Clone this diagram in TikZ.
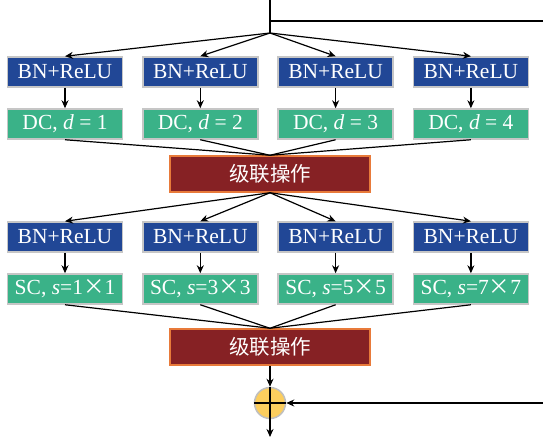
\documentclass[tikz,border=0pt]{standalone}
\usepackage{fontspec}
\setmainfont{Liberation Serif}
\newfontfamily\cjk{Noto Sans CJK SC}
\usetikzlibrary{arrows.meta}

\definecolor{bnblue}{RGB}{33,71,150}
\definecolor{convgreen}{RGB}{58,178,136}
\definecolor{catred}{RGB}{134,33,36}
\definecolor{catedge}{RGB}{232,122,58}
\definecolor{sumyellow}{RGB}{252,206,94}

\newcommand{\bigtimes}{{\cjk ×}}

\begin{document}
\begin{tikzpicture}[
              x=1pt,y=-1pt,
              bn/.style={draw=gray!45,line width=1.5pt,fill=bnblue,text=white,minimum width=115pt,minimum height=30pt,inner sep=0pt,font=\fontsize{21.5}{24}\selectfont},
              conv/.style={bn,fill=convgreen},
              concat/.style={draw=catedge,line width=1.5pt,fill=catred,text=white,minimum width=200pt,minimum height=36pt,inner sep=0pt,font=\cjk\fontsize{20.5}{24}\selectfont},
              sum/.style={circle,draw=gray!50,line width=1.5pt,fill=sumyellow,minimum size=31pt,inner sep=0pt},
              flow/.style={line width=1.2pt,-{Stealth[length=8pt,width=7pt]}},
              link/.style={line width=1.2pt}
            ]
            \useasboundingbox (0,0) rectangle (543,437);

            % Input and skip connection
            \coordinate (in) at (270,0);
            \coordinate (split) at (270,33);
            \coordinate (skipA) at (270,21);
            \coordinate (skipB) at (543,21);
            \coordinate (skipC) at (543,403);
            \coordinate (out) at (270,437);
            \draw[link] (in) -- (split);
            \draw[link] (skipA) -- (skipB);

            % Stage 1: dilated convolutions
            \foreach \i in {1,2,3,4} {
              \node[bn] (bnA\i) at ({65+135.3*(\i-1)},72) {BN+ReLU};
              \node[conv] (dc\i) at ({65+135.3*(\i-1)},124) {DC, \textit{d} = \i};
              \draw[flow] (split) -- (bnA\i.north);
              \draw[flow] (bnA\i) -- (dc\i);
            }
            \node[concat] (catA) at (270,174) {级联操作};
            \foreach \i in {1,2,3,4}
              \draw[link] (dc\i.south) -- (catA.north);

            % Stage 2: separable convolutions
            \foreach \i/\k in {1/1,2/3,3/5,4/7} {
              \node[bn] (bnB\i) at ({65+135.3*(\i-1)},237) {BN+ReLU};
              \node[conv] (sc\i) at ({65+135.3*(\i-1)},289) {SC, \textit{s}=\k\bigtimes\k};
              \draw[flow] (catA.south) -- (bnB\i.north);
              \draw[flow] (bnB\i) -- (sc\i);
            }
            \node[concat] (catB) at (270,347) {级联操作};
            \foreach \i in {1,2,3,4}
              \draw[link] (sc\i.south) -- (catB.north);

            % Sum
            \node[sum] (sum) at (270,403) {};
            \draw[link] (sum.north) -- (sum.south);
            \draw[link] (sum.west) -- (sum.east);
            \draw[flow] (catB) -- (sum);
            \draw[flow] (skipC) -- (sum);
            \draw[flow] (sum) -- (out);

            \end{tikzpicture}
\end{document}
